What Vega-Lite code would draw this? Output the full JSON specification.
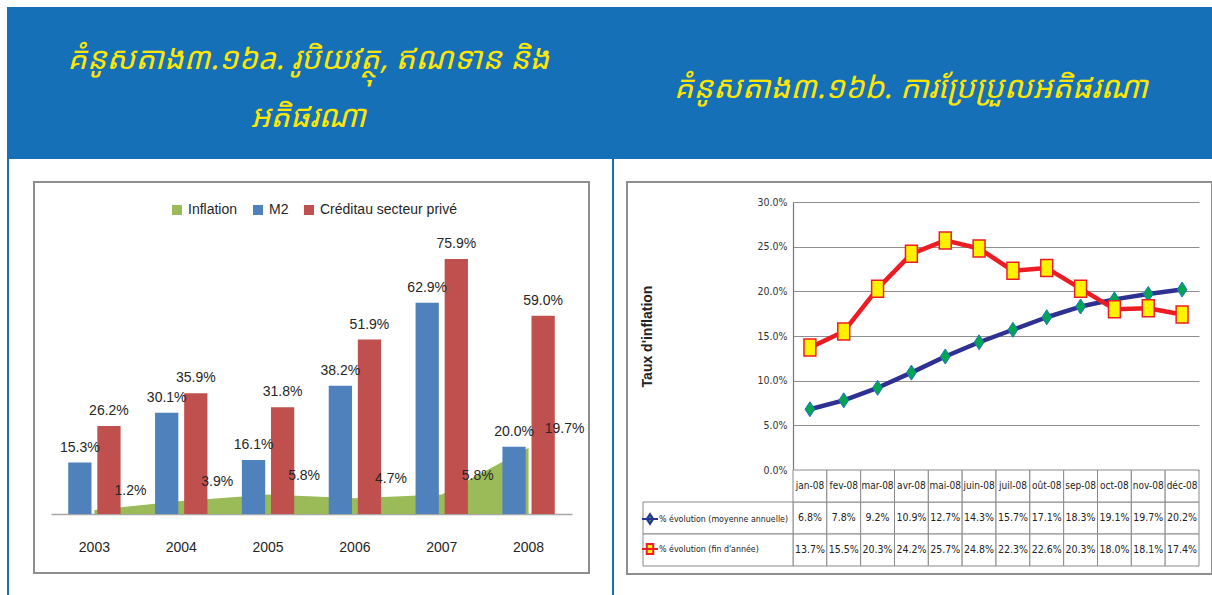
{
  "$schema": "https://vega.github.io/schema/vega-lite/v6.json",
  "padding": {"left": 7, "top": 7, "right": 0, "bottom": 0},
  "background": "white",
  "spacing": 0,
  "config": {"view": {"stroke": null}, "font": "Liberation Sans"},
  "datasets": {
    "titles": [
      {"panel": "a", "line": 1, "text": "គំនូសតាង៣.១៦a. រូបិយវត្ថុ, ឥណទាន និង"},
      {"panel": "a", "line": 2, "text": "អតិផរណា"},
      {"panel": "b", "line": 1.5, "text": "គំនូសតាង៣.១៦b. ការប្រែប្រួលអតិផរណា"}
    ],
    "growth": [
      {"year": "2003", "series": "Inflation", "value": 0.012},
      {"year": "2004", "series": "Inflation", "value": 0.039},
      {"year": "2005", "series": "Inflation", "value": 0.058},
      {"year": "2006", "series": "Inflation", "value": 0.047},
      {"year": "2007", "series": "Inflation", "value": 0.058},
      {"year": "2008", "series": "Inflation", "value": 0.197},
      {"year": "2003", "series": "M2", "value": 0.153},
      {"year": "2004", "series": "M2", "value": 0.301},
      {"year": "2005", "series": "M2", "value": 0.161},
      {"year": "2006", "series": "M2", "value": 0.382},
      {"year": "2007", "series": "M2", "value": 0.629},
      {"year": "2008", "series": "M2", "value": 0.200},
      {"year": "2003", "series": "Créditau secteur privé", "value": 0.262},
      {"year": "2004", "series": "Créditau secteur privé", "value": 0.359},
      {"year": "2005", "series": "Créditau secteur privé", "value": 0.318},
      {"year": "2006", "series": "Créditau secteur privé", "value": 0.519},
      {"year": "2007", "series": "Créditau secteur privé", "value": 0.759},
      {"year": "2008", "series": "Créditau secteur privé", "value": 0.590}
    ],
    "monthly": [
      {"month": "jan-08", "series": "% évolution (moyenne annuelle)", "value": 0.068},
      {"month": "fev-08", "series": "% évolution (moyenne annuelle)", "value": 0.078},
      {"month": "mar-08", "series": "% évolution (moyenne annuelle)", "value": 0.092},
      {"month": "avr-08", "series": "% évolution (moyenne annuelle)", "value": 0.109},
      {"month": "mai-08", "series": "% évolution (moyenne annuelle)", "value": 0.127},
      {"month": "juin-08", "series": "% évolution (moyenne annuelle)", "value": 0.143},
      {"month": "juil-08", "series": "% évolution (moyenne annuelle)", "value": 0.157},
      {"month": "oût-08", "series": "% évolution (moyenne annuelle)", "value": 0.171},
      {"month": "sep-08", "series": "% évolution (moyenne annuelle)", "value": 0.183},
      {"month": "oct-08", "series": "% évolution (moyenne annuelle)", "value": 0.191},
      {"month": "nov-08", "series": "% évolution (moyenne annuelle)", "value": 0.197},
      {"month": "déc-08", "series": "% évolution (moyenne annuelle)", "value": 0.202},
      {"month": "jan-08", "series": "% évolution (fin d'année)", "value": 0.137},
      {"month": "fev-08", "series": "% évolution (fin d'année)", "value": 0.155},
      {"month": "mar-08", "series": "% évolution (fin d'année)", "value": 0.203},
      {"month": "avr-08", "series": "% évolution (fin d'année)", "value": 0.242},
      {"month": "mai-08", "series": "% évolution (fin d'année)", "value": 0.257},
      {"month": "juin-08", "series": "% évolution (fin d'année)", "value": 0.248},
      {"month": "juil-08", "series": "% évolution (fin d'année)", "value": 0.223},
      {"month": "oût-08", "series": "% évolution (fin d'année)", "value": 0.226},
      {"month": "sep-08", "series": "% évolution (fin d'année)", "value": 0.203},
      {"month": "oct-08", "series": "% évolution (fin d'année)", "value": 0.180},
      {"month": "nov-08", "series": "% évolution (fin d'année)", "value": 0.181},
      {"month": "déc-08", "series": "% évolution (fin d'année)", "value": 0.174}
    ]
  },
  "vconcat": [
    {
      "width": 1205,
      "height": 152,
      "view": {"fill": "#1570B7", "stroke": null},
      "data": {"name": "titles"},
      "mark": {"type": "text", "font": "Noto Sans Khmer, Khmer OS, DejaVu Sans", "fontStyle": "italic", "fontSize": 31, "color": "#FFE600", "baseline": "middle", "align": "center"},
      "encoding": {
        "x": {"field": "panel", "type": "nominal", "scale": {"domain": ["a", "b"], "paddingInner": 0, "paddingOuter": 0}, "axis": null},
        "y": {"field": "line", "type": "quantitative", "scale": {"domain": [0.07, 2.72], "reverse": true, "nice": false, "zero": false}, "axis": null},
        "text": {"field": "text"}
      }
    },
    {
      "spacing": 0,
      "hconcat": [
        {"width": 2, "height": 436, "view": {"fill": "#1570B7", "stroke": null}, "data": {"values": []}, "mark": "point", "encoding": {}},
        {"width": 24, "height": 1, "data": {"values": []}, "mark": "point", "encoding": {}},
        {
          "spacing": 0,
          "vconcat": [
            {"width": 555, "height": 22, "data": {"values": []}, "mark": "point", "encoding": {}},
            {
              "width": 555,
              "height": 391,
              "view": {"stroke": "#8e8e8e", "strokeWidth": 2, "fill": "white"},
              "data": {"name": "growth"},
              "encoding": {
                "x": {"field": "year", "type": "ordinal", "scale": {"type": "band", "domain": ["2003", "2004", "2005", "2006", "2007", "2008"], "range": [17, 538], "paddingInner": 0.33, "paddingOuter": 0.165},
                  "axis": {"orient": "bottom", "offset": -59, "title": null, "ticks": false, "grid": false, "labelAngle": 0, "labelPadding": 26, "labelFontSize": 14, "labelColor": "#262626", "domainColor": "#a6a6a6", "domainWidth": 1.5}},
                "y": {"field": "value", "type": "quantitative", "scale": {"domain": [-0.1756, 0.988], "nice": false, "zero": false}, "axis": null}
              },
              "layer": [
                {
                  "transform": [{"filter": "datum.series == 'Inflation'"}],
                  "mark": {"type": "area", "opacity": 1},
                  "encoding": {
                    "color": {"field": "series", "type": "nominal", "scale": {"domain": ["Inflation", "M2", "Créditau secteur privé"], "range": ["#9BBB59", "#4F81BD", "#C0504D"]},
                      "legend": {"orient": "none", "legendX": 163, "legendY": 196, "direction": "horizontal", "title": null, "symbolType": "square", "symbolSize": 100, "symbolStrokeWidth": 0, "labelFontSize": 14, "labelColor": "#262626", "labelOffset": 4, "columnPadding": 13}}
                  }
                },
                {
                  "transform": [{"filter": "datum.series != 'Inflation'"}],
                  "mark": {"type": "bar"},
                  "encoding": {
                    "xOffset": {"field": "series", "type": "nominal", "scale": {"domain": ["M2", "Créditau secteur privé"], "paddingInner": 0.2, "paddingOuter": 0.1}},
                    "color": {"field": "series", "type": "nominal"}
                  }
                },
                {
                  "transform": [{"filter": "datum.series != 'Inflation'"}],
                  "mark": {"type": "text", "dy": -15, "fontSize": 14, "color": "#262626", "baseline": "middle"},
                  "encoding": {
                    "xOffset": {"field": "series", "type": "nominal", "scale": {"domain": ["M2", "Créditau secteur privé"], "paddingInner": 0.2, "paddingOuter": 0.1}},
                    "text": {"field": "value", "type": "quantitative", "format": ".1%"}
                  }
                },
                {
                  "transform": [{"filter": "datum.series == 'Inflation'"}],
                  "mark": {"type": "text", "dx": 36, "dy": -19, "fontSize": 14, "color": "#262626", "baseline": "middle"},
                  "encoding": {
                    "text": {"field": "value", "type": "quantitative", "format": ".1%"}
                  }
                }
              ]
            }
          ]
        },
        {"width": 22, "height": 1, "data": {"values": []}, "mark": "point", "encoding": {}},
        {"width": 2, "height": 436, "view": {"fill": "#1570B7", "stroke": null}, "data": {"values": []}, "mark": "point", "encoding": {}},
        {"width": 12, "height": 1, "data": {"values": []}, "mark": "point", "encoding": {}},
        {
          "spacing": 0,
          "vconcat": [
            {"width": 585, "height": 22, "data": {"values": []}, "mark": "point", "encoding": {}},
            {
              "width": 585,
              "height": 392,
              "view": {"stroke": "#8e8e8e", "strokeWidth": 2, "fill": "white"},
              "data": {"name": "monthly"},
              "resolve": {"scale": {"x": "independent", "y": "independent"}, "axis": {"x": "independent", "y": "independent"}},
              "layer": [
                {
                  "mark": {"type": "rect", "fill": "white", "stroke": "#8a8a8a", "strokeWidth": 1},
                  "encoding": {
                    "x": {"field": "month", "type": "ordinal", "scale": {"type": "band", "domain": ["jan-08", "fev-08", "mar-08", "avr-08", "mai-08", "juin-08", "juil-08", "oût-08", "sep-08", "oct-08", "nov-08", "déc-08"], "range": [166, 572], "paddingInner": 0, "paddingOuter": 0}, "axis": null},
                    "y": {"field": "series", "type": "nominal", "scale": {"type": "band", "domain": ["header", "% évolution (moyenne annuelle)", "% évolution (fin d'année)"], "range": [288, 384], "paddingInner": 0, "paddingOuter": 0}, "axis": null}
                  }
                },
                {
                  "transform": [{"filter": "datum.series == '% évolution (moyenne annuelle)'"}],
                  "mark": {"type": "rect", "fill": "white", "stroke": "#8a8a8a", "strokeWidth": 1},
                  "encoding": {
                    "x": {"field": "month", "type": "ordinal", "scale": {"type": "band", "domain": ["jan-08", "fev-08", "mar-08", "avr-08", "mai-08", "juin-08", "juil-08", "oût-08", "sep-08", "oct-08", "nov-08", "déc-08"], "range": [166, 572], "paddingInner": 0, "paddingOuter": 0}, "axis": null},
                    "y": {"datum": "header", "type": "nominal", "scale": {"type": "band", "domain": ["header", "% évolution (moyenne annuelle)", "% évolution (fin d'année)"], "range": [288, 384], "paddingInner": 0, "paddingOuter": 0}, "axis": null}
                  }
                },
                {
                  "transform": [{"filter": "datum.month == 'jan-08'"}],
                  "mark": {"type": "rect", "fill": "white", "stroke": "#8a8a8a", "strokeWidth": 1},
                  "encoding": {
                    "x": {"datum": 0, "type": "quantitative", "scale": {"domain": [0, 1], "range": [16, 166], "nice": false, "zero": false}, "axis": null},
                    "x2": {"datum": 1},
                    "y": {"field": "series", "type": "nominal", "scale": {"type": "band", "domain": ["header", "% évolution (moyenne annuelle)", "% évolution (fin d'année)"], "range": [288, 384], "paddingInner": 0, "paddingOuter": 0}, "axis": null}
                  }
                },
                {
                  "mark": {"type": "text", "font": "DejaVu Sans Condensed, sans-serif", "fontSize": 10.5, "color": "#222", "baseline": "middle", "align": "center"},
                  "encoding": {
                    "x": {"field": "month", "type": "ordinal", "scale": {"type": "band", "domain": ["jan-08", "fev-08", "mar-08", "avr-08", "mai-08", "juin-08", "juil-08", "oût-08", "sep-08", "oct-08", "nov-08", "déc-08"], "range": [166, 572], "paddingInner": 0, "paddingOuter": 0}, "axis": null},
                    "y": {"field": "series", "type": "nominal", "scale": {"type": "band", "domain": ["header", "% évolution (moyenne annuelle)", "% évolution (fin d'année)"], "range": [288, 384], "paddingInner": 0, "paddingOuter": 0}, "axis": null},
                    "text": {"field": "value", "type": "quantitative", "format": ".1%"}
                  }
                },
                {
                  "transform": [{"filter": "datum.series == '% évolution (moyenne annuelle)'"}],
                  "mark": {"type": "text", "font": "DejaVu Sans Condensed, sans-serif", "fontSize": 10, "color": "#222", "baseline": "middle", "align": "center"},
                  "encoding": {
                    "x": {"field": "month", "type": "ordinal", "scale": {"type": "band", "domain": ["jan-08", "fev-08", "mar-08", "avr-08", "mai-08", "juin-08", "juil-08", "oût-08", "sep-08", "oct-08", "nov-08", "déc-08"], "range": [166, 572], "paddingInner": 0, "paddingOuter": 0}, "axis": null},
                    "y": {"datum": "header", "type": "nominal", "scale": {"type": "band", "domain": ["header", "% évolution (moyenne annuelle)", "% évolution (fin d'année)"], "range": [288, 384], "paddingInner": 0, "paddingOuter": 0}, "axis": null},
                    "text": {"field": "month"}
                  }
                },
                {
                  "mark": {"type": "line", "strokeWidth": 4.5, "strokeJoin": "round"},
                  "encoding": {
                    "x": {"field": "month", "type": "ordinal", "scale": {"type": "band", "domain": ["jan-08", "fev-08", "mar-08", "avr-08", "mai-08", "juin-08", "juil-08", "oût-08", "sep-08", "oct-08", "nov-08", "déc-08"], "range": [166, 572], "paddingInner": 0, "paddingOuter": 0}, "axis": null},
                    "y": {"field": "value", "type": "quantitative", "scale": {"domain": [0, 0.3], "range": [288, 20], "nice": false, "zero": false},
                      "axis": {"orient": "left", "offset": -166, "values": [0, 0.05, 0.1, 0.15, 0.2, 0.25, 0.3], "format": ".1%", "grid": true, "gridColor": "#8f8f8f", "gridWidth": 1.2, "domainColor": "#777", "domainWidth": 1.2, "ticks": false, "labelPadding": 6, "labelFont": "DejaVu Sans Condensed, sans-serif", "labelFontSize": 10.5, "labelColor": "#333", "title": "Taux d'inflation", "titleFont": "Liberation Sans", "titleFontWeight": "bold", "titleFontSize": 14, "titleColor": "#222", "titlePadding": 102}},
                    "stroke": {"field": "series", "type": "nominal", "scale": {"domain": ["% évolution (moyenne annuelle)", "% évolution (fin d'année)"], "range": ["#2E3192", "#ED1C24"]},
                      "legend": {"orient": "none", "legendX": 637, "legendY": 506, "direction": "vertical", "title": null, "symbolSize": 100, "symbolStrokeWidth": 2, "labelFont": "DejaVu Sans Condensed, sans-serif", "labelFontSize": 8.8, "labelColor": "#222", "labelOffset": 3, "labelLimit": 300, "rowPadding": 12,
                        "encode": {"symbols": {"update": {
                          "shape": {"signal": "indexof(datum.value, 'fin') >= 0 ? 'M-1.6,0H1.6M-0.65,-1H0.65V1H-0.65Z' : 'M-1.6,0H1.6M0,-1L0.65,0L0,1L-0.65,0Z'"},
                          "fill": {"signal": "indexof(datum.value, 'fin') >= 0 ? '#FFF200' : '#00A651'"},
                          "fillOpacity": {"value": 1}
                        }}}}}
                  }
                },
                {
                  "transform": [{"filter": "datum.series == '% évolution (moyenne annuelle)'"}],
                  "mark": {"type": "point", "shape": "M0,-1L0.65,0L0,1L-0.65,0Z", "filled": true, "size": 225, "fill": "#00A651", "stroke": "#1B75BC", "strokeWidth": 1, "opacity": 1},
                  "encoding": {
                    "x": {"field": "month", "type": "ordinal", "scale": {"type": "band", "domain": ["jan-08", "fev-08", "mar-08", "avr-08", "mai-08", "juin-08", "juil-08", "oût-08", "sep-08", "oct-08", "nov-08", "déc-08"], "range": [166, 572], "paddingInner": 0, "paddingOuter": 0}, "axis": null},
                    "y": {"field": "value", "type": "quantitative", "scale": {"domain": [0, 0.3], "range": [288, 20], "nice": false, "zero": false}, "axis": null}
                  }
                },
                {
                  "transform": [{"filter": "datum.series == '% évolution (fin d\\'année)'"}],
                  "mark": {"type": "point", "shape": "M-0.7,-1H0.7V1H-0.7Z", "filled": true, "size": 289, "fill": "#FFF200", "stroke": "#ED1C24", "strokeWidth": 1.5, "opacity": 1},
                  "encoding": {
                    "x": {"field": "month", "type": "ordinal", "scale": {"type": "band", "domain": ["jan-08", "fev-08", "mar-08", "avr-08", "mai-08", "juin-08", "juil-08", "oût-08", "sep-08", "oct-08", "nov-08", "déc-08"], "range": [166, 572], "paddingInner": 0, "paddingOuter": 0}, "axis": null},
                    "y": {"field": "value", "type": "quantitative", "scale": {"domain": [0, 0.3], "range": [288, 20], "nice": false, "zero": false}, "axis": null}
                  }
                }
              ]
            }
          ]
        }
      ]
    }
  ]
}
